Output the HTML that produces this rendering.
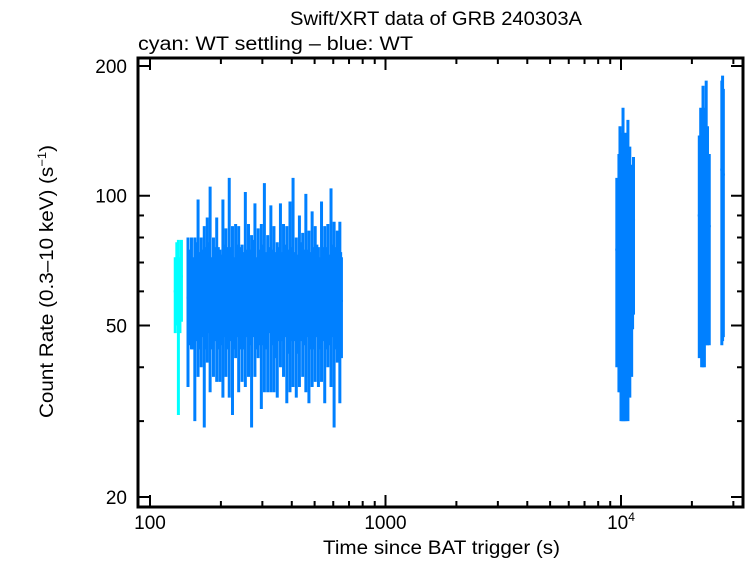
<!DOCTYPE html>
<html><head><meta charset="utf-8"><style>
body{margin:0;background:#fff}
svg text{font-family:"Liberation Sans",sans-serif;fill:#000}
</style></head><body>
<svg id="chart" width="746" height="558" xmlns="http://www.w3.org/2000/svg">
<rect width="746" height="558" fill="#fff"/>
<text x="290" y="25" font-size="19" textLength="292" lengthAdjust="spacingAndGlyphs">Swift/XRT data of GRB 240303A</text>
<text x="138" y="50" font-size="19" textLength="275" lengthAdjust="spacingAndGlyphs">cyan: WT settling – blue: WT</text>
<text transform="translate(53,418) rotate(-90)" font-size="19" textLength="273" lengthAdjust="spacingAndGlyphs">Count Rate (0.3–10 keV) (s<tspan dy="-7" font-size="12">−1</tspan><tspan dy="7">)</tspan></text>
<text x="323" y="554" font-size="19" textLength="237" lengthAdjust="spacingAndGlyphs">Time since BAT trigger (s)</text>
<g id="marks"></g>
<g id="axes"></g>
</svg>
<script>
const cyanTimes=[128,130,132,134,136];
const cyanRates=[60,64,55,60,65];
const cyanErrs=[12,14,24,12,14];
const blueTimes=[145,150,155,160,165,170,175,180,186,192,198,204,210,217,224,231,238,246,254,262,270,279,288,297,306,316,326,336,347,358,369,381,393,405,418,431,445,459,473,488,503,519,535,552,569,587,605,624,640,650,
147,152,157,162,167,172,177,183,189,195,201,207,213,220,227,234,242,250,258,266,274,283,292,301,311,321,331,341,352,363,375,387,399,411,424,438,452,466,480,495,511,527,543,560,578,596,614,632,645,
9600,9800,9900,10000,10100,10200,10300,10400,10500,10700,10900,11100,11300,9700,9850,9950,10050,10150,10250,10350,10450,10600,10800,11000,11200,
21500,21800,22000,22300,22600,23000,23300,23700,21650,22150,22800,23500,26800,27000,27200];
const blueRates=[58,62,55,68,60,57,65,70,59,63,56,66,61,72,58,64,60,57,69,62,55,67,63,59,71,58,65,60,56,68,62,59,66,73,57,63,60,68,58,64,61,56,67,59,63,70,58,62,60,57,
60,58,62,59,61,60,63,58,61,60,59,62,60,61,58,62,60,59,61,60,63,58,60,61,59,62,60,58,61,60,62,59,61,60,58,62,60,61,59,60,62,58,61,60,59,62,60,61,60,
75,80,90,85,70,95,80,85,75,90,82,78,88,72,70,74,68,73,71,70,72,69,74,71,73,
90,105,95,110,100,115,95,85,80,85,82,84,115,118,112];
const blueErrs=[22,18,25,30,20,28,24,35,21,26,19,32,23,38,27,22,25,20,33,24,26,29,21,27,36,23,30,25,22,28,24,26,31,37,23,27,22,33,25,28,24,20,30,26,23,34,29,21,27,15,
15,14,16,15,14,16,15,14,15,16,14,15,16,15,14,15,16,15,14,15,16,14,15,16,15,14,15,16,15,14,15,16,15,14,15,16,15,14,15,16,15,14,15,16,14,15,16,15,14,
35,45,55,55,40,65,50,55,45,60,48,40,35,25,24,26,23,25,24,25,26,24,25,23,24,
48,55,55,70,60,70,50,40,30,32,30,31,70,72,65];
const xTickVals=[100,1000,10000];
const yTickVals=[20,50,100,200];
const yTickLabels=["20","50","100","200"];

const L=138,R=743,T=58,B=507;
function X(t){return 150+(Math.log10(t)-2)*235.5;}
function Y(v){return 497-(Math.log10(v)-Math.log10(20))*431;}
const NS="http://www.w3.org/2000/svg";
const marks=document.getElementById('marks'),axes=document.getElementById('axes');
function ln(p,x1,y1,x2,y2,c,w){const e=document.createElementNS(NS,'line');e.setAttribute('x1',x1);e.setAttribute('y1',y1);e.setAttribute('x2',x2);e.setAttribute('y2',y2);e.setAttribute('stroke',c);e.setAttribute('stroke-width',w);p.appendChild(e);return e;}
function series(ts,rs,es,col,name){
  for(let i=0;i<ts.length;i++){
    const g=document.createElementNS(NS,'g');
    
    
    const x=X(ts[i]);
    ln(g,x,Y(rs[i]+es[i]),x,Y(rs[i]-es[i]),col,3);
    ln(g,X(ts[i]*0.985),Y(rs[i]),X(ts[i]*1.015),Y(rs[i]),col,2);
    marks.appendChild(g);
  }
}
series(cyanTimes,cyanRates,cyanErrs,'#00ffff','wt-settling-point');
series(blueTimes,blueRates,blueErrs,'#0080ff','wt-point');
const fr=document.createElementNS(NS,'rect');
fr.setAttribute('x',L);fr.setAttribute('y',T);fr.setAttribute('width',R-L);fr.setAttribute('height',B-T);
fr.setAttribute('fill','none');fr.setAttribute('stroke','#000');fr.setAttribute('stroke-width',3);


axes.appendChild(fr);
for(let d=100;d<=10000;d*=10){for(let m=1;m<10;m++){const t=d*m;const x=X(t);if(x<L||x>R)continue;const len=m===1?12:6;ln(axes,x,B,x,B-len,'#000',2);ln(axes,x,T,x,T+len,'#000',2);}}
xTickVals.forEach((v,i)=>{const tx=document.createElementNS(NS,'text');tx.setAttribute('x',X(v));tx.setAttribute('y',529);tx.setAttribute('font-size','19');tx.setAttribute('text-anchor','middle');


if(v===10000){tx.innerHTML='10<tspan dy="-8" font-size="12">4</tspan>';}else tx.textContent=String(v);axes.appendChild(tx);});
for(let d=10;d<=100;d*=10){for(let m=1;m<10;m++){const v=d*m;const y=Y(v);if(y<T||y>B)continue;const len=(v===20||v===50||v===100)?12:6;ln(axes,L,y,L+len,y,'#000',2);ln(axes,R,y,R-len,y,'#000',2);}}
ln(axes,L,Y(200),L+12,Y(200),'#000',2);ln(axes,R,Y(200),R-12,Y(200),'#000',2);
yTickVals.forEach((v,i)=>{const tx=document.createElementNS(NS,'text');tx.setAttribute('x',127);tx.setAttribute('y',Y(v)+7);tx.setAttribute('font-size','19');tx.setAttribute('text-anchor','end');


tx.textContent=yTickLabels[i];axes.appendChild(tx);});
</script>
</body></html>
